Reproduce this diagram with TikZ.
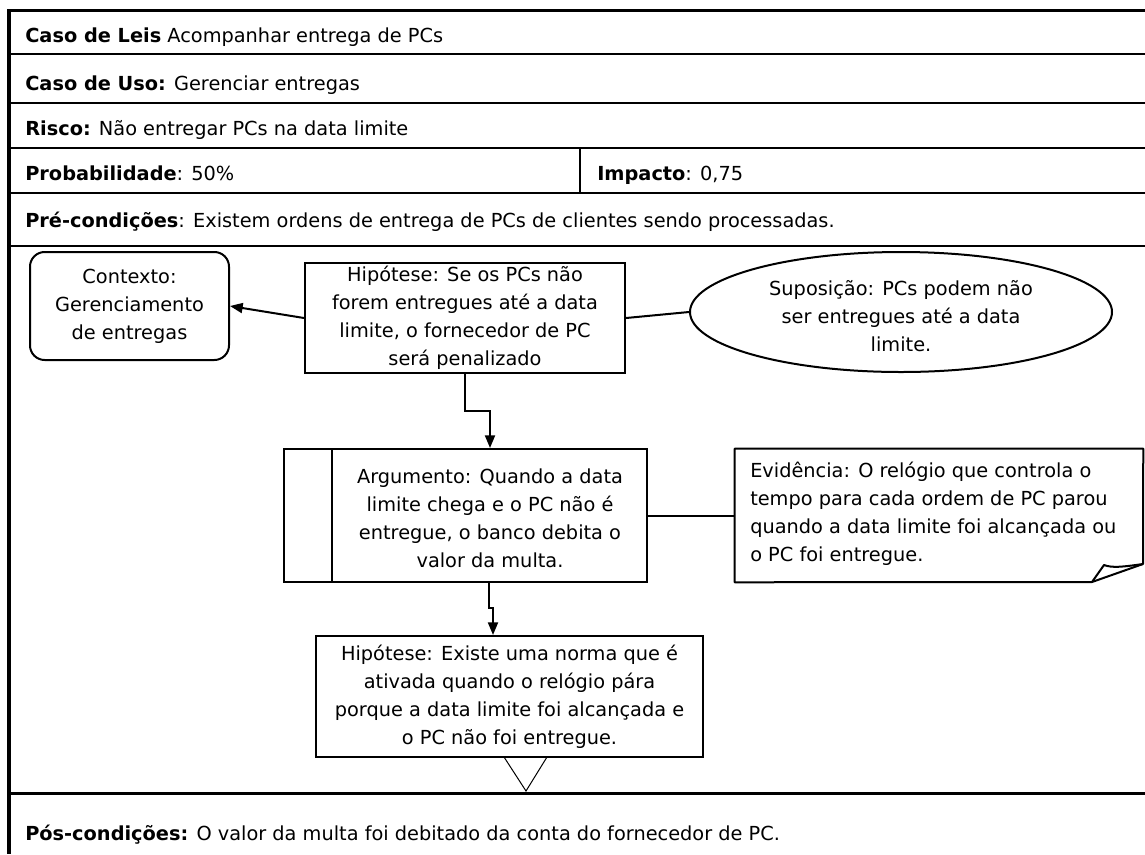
\documentclass[tikz,border=0pt]{standalone}
\usepackage{fontspec}
\setmainfont{DejaVu Sans}
\usetikzlibrary{shapes.geometric,arrows.meta}
\begin{document}
\begin{tikzpicture}[x=0.75pt,y=-0.75pt,
  every node/.style={font=\fontsize{14.5}{21}\selectfont},
  box/.style={draw, line width=1.5pt, inner sep=0pt},
  rowtext/.style={anchor=base west, inner sep=0pt},
  conn/.style={line width=1.5pt},
  arr/.style={conn, -{Triangle[length=9.5pt,width=7.5pt]}},
  rule/.style={line width=2pt}
]
\useasboundingbox (0,0) rectangle (1145,854);
\fill[white] (0,0) rectangle (1145,854);

% form frame and row rules
\draw[line width=2.25pt] (7,10.5) -- (1145,10.5);
\draw[line width=3pt] (8.5,9) -- (8.5,854);
\foreach \yy in {54,103,148,193,246} \draw[rule] (8.5,\yy) -- (1145,\yy);
\draw[line width=2.25pt] (8.5,793) -- (1145,793);
\draw[rule] (580,148) -- (580,193);

% header rows
\node[rowtext] (leis) at (25,42) {\textbf{Caso de Leis} Acompanhar entrega de PCs};
\node[rowtext] (uso) at (25,90.5) {\textbf{Caso de Uso:} Gerenciar entregas};
\node[rowtext] (risco) at (25,135.5) {\textbf{Risco:} Não entregar PCs na data limite};
\node[rowtext] (prob) at (25,180) {\textbf{Probabilidade}: 50\%};
\node[rowtext] (imp) at (597,180) {\textbf{Impacto}: 0,75};
\node[rowtext] (pre) at (25,227) {\textbf{Pré-condições}: Existem ordens de entrega de PCs de clientes sendo processadas.};
\node[rowtext] (pos) at (25,840) {\textbf{Pós-condições:} O valor da multa foi debitado da conta do fornecedor de PC.};

% argument structure
\node[box, rounded corners=11pt, minimum width=149.25pt, minimum height=81pt, align=center]
  (ctx) at (129.5,306) {Contexto:\\Gerenciamento\\de entregas};
\node[box, minimum width=240pt, minimum height=82.5pt, align=center]
  (hip1) at (465,318) {Hipótese: Se os PCs não\\forem entregues até a data\\limite, o fornecedor de PC\\será penalizado};
\node[ellipse, draw, line width=1.5pt, minimum width=316.5pt, minimum height=90pt, inner sep=0pt]
  (sup) at (901,312) {};
\node[align=center] (suptxt) at (901,316) {Suposição: PCs podem não\\ser entregues até a data\\limite.};

\node[box, minimum width=272.25pt, minimum height=99.75pt] (arg) at (465.5,515.5) {};
\coordinate (argdiv) at (332,0);
\draw[line width=1.5pt] (argdiv |- arg.north) -- (argdiv |- arg.south);
\node[align=center] (argtxt) at (490,518) {Argumento: Quando a data\\limite chega e o PC não é\\entregue, o banco debita o\\valor da multa.};

% evidence note with folded corner
\node[minimum width=306pt, minimum height=99.75pt, inner sep=0pt] (evid) at (939,515.5) {};
\draw[line width=1.5pt, line join=round] (evid.north west) -- (evid.north east) -- (1143,564)
  -- (1092,582) -- (evid.south west) -- cycle;
\draw[line width=1.5pt, line join=round] (1092,582) -- (1104,565)
  .. controls (1112,568) and (1122,567) .. (1143,564);
\node[align=left, anchor=west, inner sep=0pt] (evidtxt) at (750,514) {Evidência: O relógio que controla o\\tempo para cada ordem de PC parou\\quando a data limite foi alcançada ou\\o PC foi entregue.};

\node[box, minimum width=290.25pt, minimum height=90.75pt, align=center]
  (hip2) at (509.5,696.5) {Hipótese: Existe uma norma que é\\ativada quando o relógio pára\\porque a data limite foi alcançada e\\o PC não foi entregue.};
\draw[line width=0.75pt] (504,757) -- (526,791) -- (547,757);

% connectors
\draw[arr] (hip1.west) -- (ctx.east);
\draw[conn] (hip1.east) -- (sup.west);
\coordinate (b1) at (490,411);
\draw[arr] (hip1.south) |- (b1) -- (b1 |- arg.north);
\coordinate (b2) at (489,608);
\coordinate (b3) at (493,608);
\draw[arr] (b2 |- arg.south) -- (b2) -- (b3) -- (b3 |- hip2.north);
\draw[conn] (arg.east) -- (evid.west);
\end{tikzpicture}
\end{document}
